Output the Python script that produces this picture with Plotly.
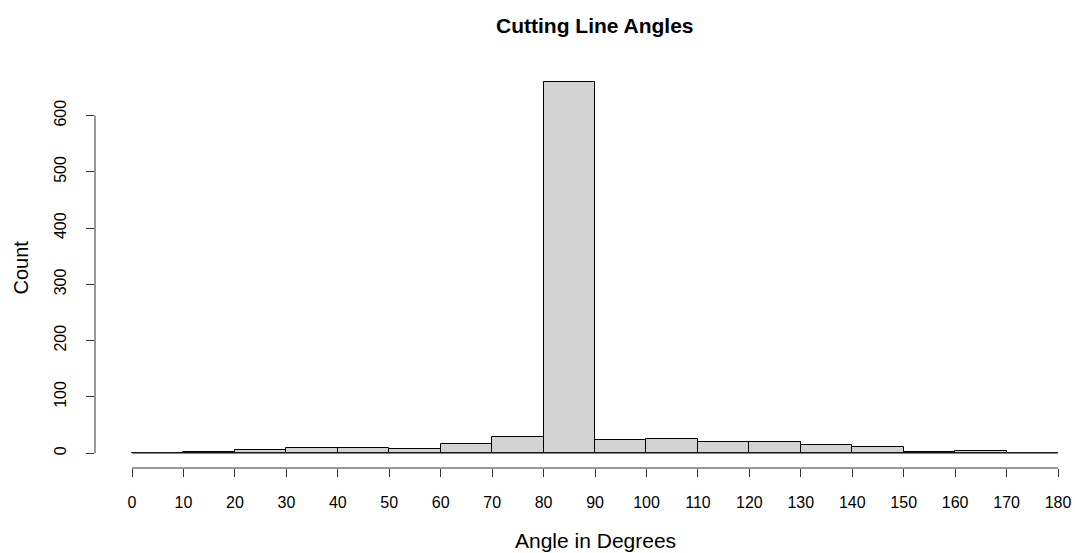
import plotly.graph_objects as go

# Data: histogram of cutting line angles (10-degree bins)
bin_edges = [0, 10, 20, 30, 40, 50, 60, 70, 80, 90, 100, 110, 120, 130, 140, 150, 160, 170, 180]
counts = [0, 2, 5, 9, 9, 7, 16, 29, 660, 24, 25, 20, 19, 14, 11, 2, 4, 0]
x_ticks = list(range(0, 181, 10))
y_ticks = list(range(0, 601, 100))

centers = [(a + b) / 2 for a, b in zip(bin_edges[:-1], bin_edges[1:])]
widths = [b - a for a, b in zip(bin_edges[:-1], bin_edges[1:])]

FONT = "Liberation Sans, Arial, sans-serif"

fig = go.Figure()
# baseline under empty bins (R draws zero-height rectangles as lines)
fig.add_trace(go.Scatter(
    x=[bin_edges[0], bin_edges[-1]], y=[0, 0], mode="lines",
    line=dict(color="#444444", width=1), hoverinfo="skip", showlegend=False))
fig.add_trace(go.Bar(
    x=centers, y=counts, width=widths,
    marker=dict(color="#D3D3D3", line=dict(color="black", width=1)),
    showlegend=False))

fig.update_layout(
    width=1075, height=553,
    margin=dict(l=95, r=0, t=67, b=85),
    plot_bgcolor="white", paper_bgcolor="white",
    bargap=0,
    font=dict(family=FONT, color="black"),
    xaxis=dict(range=[-7.2, 183.3], tickvals=x_ticks, ticktext=[str(v) for v in x_ticks],
               ticks="outside", ticklen=8, tickcolor="#333333", tickwidth=1,
               ticklabelstandoff=12,
               showline=False, showgrid=False, zeroline=False,
               tickfont=dict(size=16, family=FONT, color="black")),
    yaxis=dict(range=[-26.4, 686.4], tickvals=y_ticks, ticktext=[str(v) for v in y_ticks],
               ticks="outside", ticklen=8, tickcolor="#333333", tickwidth=1,
               tickangle=-90, ticklabelstandoff=14,
               showline=False, showgrid=False, zeroline=False,
               tickfont=dict(size=16, family=FONT, color="black")),
    shapes=[
        dict(type="line", xref="x", yref="paper", x0=x_ticks[0], x1=x_ticks[-1], y0=0, y1=0,
             line=dict(color="#333333", width=1)),
        dict(type="line", xref="paper", yref="y", x0=0, x1=0, y0=y_ticks[0], y1=y_ticks[-1],
             line=dict(color="#333333", width=1)),
    ],
    annotations=[
        dict(text="<b>Cutting Line Angles</b>", xref="x", yref="paper", x=90, y=1,
             yshift=42, showarrow=False, yanchor="middle", xanchor="center",
             font=dict(size=21, family=FONT, color="black")),
        dict(text="Angle in Degrees", xref="x", yref="paper", x=90, y=0,
             yshift=-72, showarrow=False, yanchor="middle", xanchor="center",
             font=dict(size=21, family=FONT, color="black")),
        dict(text="Count", xref="paper", yref="paper", x=0, y=0.5, xshift=-75,
             textangle=-90, showarrow=False, xanchor="center", yanchor="middle",
             font=dict(size=20, family=FONT, color="black")),
    ],
)

fig.write_html("out.html")
